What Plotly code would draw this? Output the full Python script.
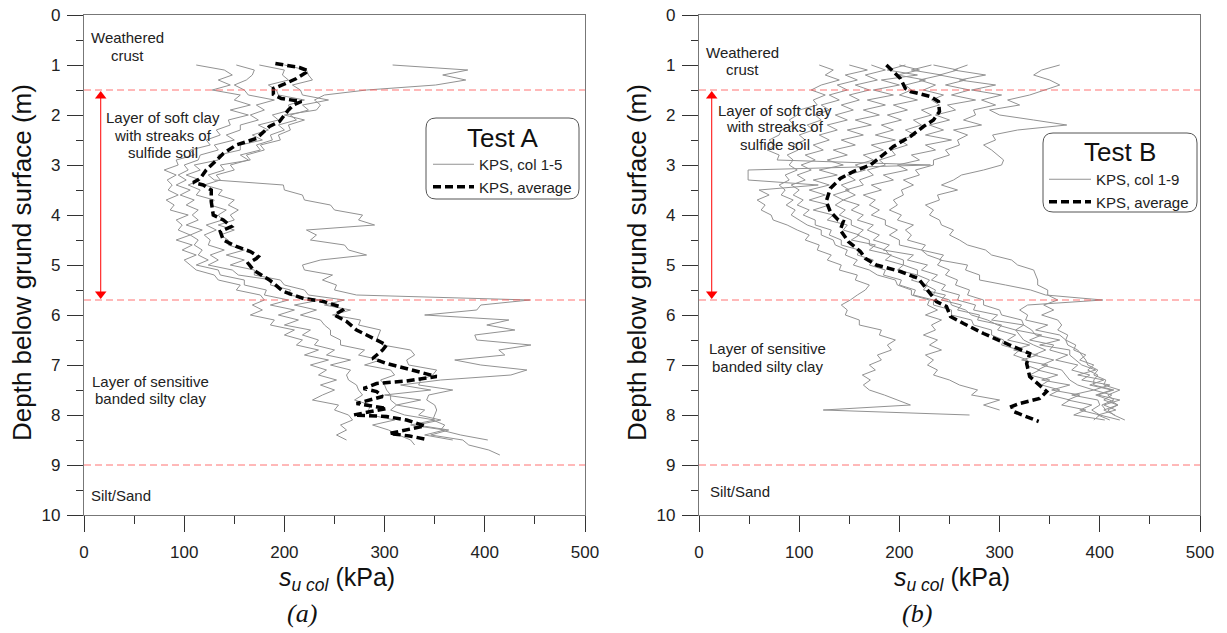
import plotly.graph_objects as go

W, H = 1227, 633

def fx(p):
    return p / W

def fy(p):
    return 1 - p / H

# ---------------- data ----------------
DEPTH = [1.0, 1.1, 1.2, 1.3, 1.4, 1.5, 1.6, 1.7, 1.8, 1.9,
         2.0, 2.1, 2.2, 2.3, 2.4, 2.5, 2.6, 2.7, 2.8, 2.9,
         3.0, 3.1, 3.2, 3.3, 3.4, 3.5, 3.6, 3.7, 3.8, 3.9,
         4.0, 4.1, 4.2, 4.3, 4.4, 4.5, 4.6, 4.7, 4.8, 4.9,
         5.0, 5.1, 5.2, 5.3, 5.4, 5.5, 5.6, 5.7, 5.8, 5.9,
         6.0, 6.1, 6.2, 6.3, 6.4, 6.5, 6.6, 6.7, 6.8, 6.9,
         7.0, 7.1, 7.2, 7.3, 7.4, 7.5, 7.6, 7.7, 7.8, 7.9,
         8.0, 8.1, 8.2, 8.3, 8.4, 8.5, 8.6, 8.7, 8.8]

# Test A - columns 1-5 (su col, kPa), one value per DEPTH entry
A1 = [112, 140, 148, 134, 146, 128, 156, 150, 166, 146,
      164, 144, 146, 132, 136, 122, 126, 106, 110, 92,
      94, 80, 92, 83, 88, 84, 94, 82, 90, 86,
      104, 92, 98, 94, 106, 92, 108, 98, 112, 100,
      106, 112, 130, 134, 156, 152, 176, 180, 168, 178,
      166, 190, 186, 210, 200, 218, 212, 234, 220, 244,
      226, 242, 234, 252, 236, 250, 238, 228, 254, 250,
      264, 268, 256, 262, 252, 262]
A2 = [152, 170, 168, 162, 150, 160, 164, 190, 172, 180,
      166, 174, 156, 156, 142, 150, 130, 134, 116, 114,
      100, 104, 94, 102, 92, 106, 96, 110, 102, 114,
      108, 114, 102, 118, 106, 114, 110, 118, 114, 124,
      112, 134, 136, 160, 160, 182, 180, 204, 186, 210,
      194, 214, 200, 226, 218, 234, 230, 250, 242, 266,
      246, 266, 262, 264, 272, 274, 278, 270, 286, 284,
      286, 310, 288, 304, 314, 326, 330]
A3 = [175, 200, 198, 204, 184, 192, 194, 220, 204, 206,
      188, 194, 174, 184, 168, 178, 156, 156, 134, 134,
      110, 116, 102, 116, 104, 116, 112, 130, 126, 142,
      134, 138, 122, 132, 120, 126, 124, 140, 126, 134,
      124, 148, 154, 188, 186, 206, 204, 236, 210, 232,
      216, 236, 240, 246, 246, 256, 256, 280, 274, 296,
      280, 306, 310, 296, 300, 302, 306, 306, 312, 340,
      334, 356, 332, 364, 346, 378, 384, 404, 415]
A4 = [200, 222, 224, 228, 208, 216, 218, 244, 218, 224,
      206, 212, 194, 200, 186, 188, 172, 176, 156, 164,
      146, 150, 132, 136, 120, 138, 134, 150, 144, 154,
      146, 150, 134, 150, 136, 144, 144, 160, 142, 160,
      146, 170, 170, 196, 200, 220, 224, 260, 240, 266,
      248, 276, 274, 296, 294, 292, 298, 326, 330, 322,
      324, 352, 348, 336, 334, 368, 344, 342, 350, 352,
      350, 348, 360, 356, 376, 403]
A5 = [308, 383, 358, 381, 351, 282, 240, 230, 236, 232,
      200, 220, 204, 206, 194, 196, 176, 180, 162, 166,
      136, 140, 124, 130, 199, 200, 218, 220, 246, 250,
      278, 274, 290, 222, 232, 226, 260, 264, 282, 236,
      218, 220, 248, 238, 252, 250, 272, 445, 396, 392,
      340, 424, 402, 430, 390, 392, 446, 414, 420, 370,
      396, 442, 426, 356, 316, 346, 300, 336, 312, 306,
      320, 350, 326, 360, 340, 368]

AVG_A_D = [0.97, 1.05, 1.12, 1.27, 1.39, 1.47, 1.59, 1.67, 1.73, 1.80,
           1.90, 2.13, 2.23, 2.47, 2.60, 2.77, 2.93, 3.10, 3.27, 3.35,
           3.40, 3.50, 3.73, 4.00, 4.10, 4.23, 4.33, 4.50, 4.63, 4.73,
           4.83, 4.87, 4.97, 5.10, 5.30, 5.53, 5.67, 5.73, 5.83, 5.90,
           6.00, 6.13, 6.30, 6.47, 6.60, 6.70, 6.87, 6.97, 7.10, 7.23,
           7.32, 7.37, 7.47, 7.53, 7.63, 7.73, 7.77, 7.87, 7.97, 8.00,
           8.03, 8.10, 8.22, 8.30, 8.37, 8.42, 8.49]
AVG_A_SU = [191, 215, 224, 212, 199, 189, 189, 197, 217, 209,
            204, 195, 185, 172, 152, 139, 131, 122, 116, 109,
            119, 127, 127, 129, 139, 147, 136, 139, 152, 166,
            174, 172, 164, 169, 185, 199, 219, 239, 255, 258,
            250, 262, 272, 288, 302, 298, 288, 302, 328, 352,
            322, 292, 279, 292, 298, 279, 272, 302, 279, 269,
            302, 322, 340, 322, 305, 325, 342]

# Test B - columns 1-9 (su col, kPa), one value per DEPTH entry
B1 = [120, 134, 126, 140, 122, 112, 126, 114, 118, 100,
      98, 90, 95, 82, 80, 70, 76, 68, 80, 78,
      231, 49, 49, 49, 119, 60, 70, 58, 66, 62,
      72, 74, 88, 98, 110, 106, 120, 118, 132, 128,
      142, 140, 158, 156, 170, 166, 158, 151, 142, 148,
      146, 160, 160, 182, 180, 196, 188, 192, 178, 182,
      170, 176, 163, 171, 164, 170, 185, 199, 211, 124,
      270]
B2 = [150, 168, 146, 158, 138, 148, 130, 140, 122, 130,
      116, 122, 108, 114, 100, 106, 94, 99, 88, 94,
      90, 98, 86, 90, 80, 86, 82, 94, 87, 96,
      92, 100, 108, 122, 122, 134, 136, 148, 146, 158,
      154, 170, 178, 196, 198, 212, 212, 230, 228, 238,
      226, 242, 232, 236, 224, 238, 230, 242, 226, 234,
      228, 238, 234, 250, 260, 278, 272, 300, 284, 300]
B3 = [172, 186, 166, 178, 156, 170, 150, 160, 142, 154,
      136, 148, 128, 138, 120, 130, 114, 124, 106, 116,
      102, 112, 98, 106, 92, 100, 94, 104, 98, 110,
      104, 116, 116, 132, 130, 142, 142, 160, 158, 174,
      170, 186, 184, 202, 200, 216, 214, 234, 234, 252,
      252, 272, 274, 292, 292, 304, 302, 320, 314, 328,
      326, 340, 330, 350, 342, 360, 350, 370, 362, 386,
      374, 405]
B4 = [206, 188, 218, 182, 200, 174, 194, 168, 186, 164,
      180, 156, 172, 148, 164, 142, 156, 134, 148, 128,
      144, 120, 138, 114, 130, 110, 126, 110, 130, 114,
      134, 128, 148, 144, 160, 152, 176, 170, 192, 186,
      204, 198, 218, 212, 228, 224, 246, 242, 262, 258,
      280, 278, 302, 298, 316, 308, 330, 314, 338, 322,
      348, 338, 358, 342, 370, 352, 380, 368, 392, 380,
      400, 394]
B5 = [200, 220, 198, 226, 206, 212, 200, 218, 194, 208,
      188, 202, 182, 194, 176, 196, 172, 184, 164, 174,
      156, 166, 148, 156, 142, 150, 134, 144, 136, 146,
      140, 152, 152, 164, 158, 170, 170, 186, 190, 204,
      204, 218, 218, 230, 226, 236, 234, 250, 252, 266,
      272, 288, 298, 316, 320, 324, 334, 346, 334, 354,
      342, 362, 366, 370, 378, 394, 372, 398, 400, 392,
      400, 420]
B6 = [232, 212, 242, 220, 236, 224, 244, 232, 240, 222,
      232, 214, 222, 206, 216, 200, 208, 192, 196, 180,
      186, 168, 174, 160, 164, 146, 156, 144, 160, 152,
      164, 158, 174, 168, 180, 174, 190, 184, 214, 208,
      228, 222, 238, 232, 246, 242, 260, 258, 276, 274,
      298, 292, 324, 316, 342, 330, 354, 350, 368, 356,
      378, 372, 390, 382, 410, 394, 412, 404, 418, 408,
      414, 425]
B7 = [234, 258, 240, 266, 246, 270, 252, 276, 248, 256,
      236, 250, 230, 244, 226, 252, 226, 236, 212, 220,
      198, 208, 184, 194, 172, 182, 164, 176, 170, 180,
      172, 186, 186, 198, 190, 200, 200, 222, 228, 242,
      238, 250, 246, 258, 256, 270, 268, 284, 284, 300,
      302, 322, 324, 332, 336, 360, 340, 370, 370, 376,
      382, 396, 378, 404, 390, 412, 396, 410, 418, 404,
      415]
B8 = [268, 254, 286, 260, 296, 272, 302, 282, 296, 274,
      276, 264, 282, 254, 268, 258, 260, 246, 250, 234,
      234, 216, 220, 204, 214, 202, 204, 194, 198, 190,
      202, 198, 214, 206, 212, 208, 226, 222, 244, 240,
      268, 266, 280, 280, 306, 331, 346, 403, 328, 320,
      328, 326, 348, 336, 360, 366, 368, 378, 382, 386,
      388, 398, 394, 406, 404, 420, 408, 414, 402, 406]
B9 = [360, 342, 334, 350, 360, 346, 330, 308, 320, 290,
      300, 334, 367, 318, 293, 296, 284, 292, 298, 304,
      302, 284, 262, 254, 242, 258, 238, 240, 226, 234,
      230, 240, 242, 254, 250, 260, 268, 286, 292, 312,
      318, 334, 336, 338, 338, 348, 348, 358, 344, 354,
      342, 358, 362, 358, 368, 366, 376, 374, 386, 380,
      394, 388, 398, 394, 394, 414, 398, 420, 404, 416,
      398, 410]

AVG_B_D = [1.00, 1.27, 1.47, 1.53, 1.63, 1.73, 1.93, 2.10, 2.23, 2.43,
           2.63, 2.80, 3.00, 3.13, 3.27, 3.47, 3.73, 3.93, 4.10, 4.13,
           4.30, 4.53, 4.73, 4.87, 5.00, 5.13, 5.27, 5.40, 5.57, 5.73,
           5.83, 6.03, 6.17, 6.37, 6.60, 6.77, 6.97, 7.23, 7.53, 7.67,
           7.77, 7.83, 7.93, 8.03, 8.13]
AVG_B_SU = [187, 201, 206, 211, 231, 239, 240, 234, 224, 211,
            194, 184, 171, 154, 141, 131, 127, 131, 139, 144,
            141, 149, 161, 166, 177, 201, 219, 224, 231, 237,
            247, 251, 264, 284, 310, 330, 327, 330, 347, 340,
            320, 312, 314, 327, 339]

LAYER_BOUNDS = [1.5, 5.7, 9.0]
SOFT_CLAY_SPAN = [1.5, 5.7]
X_TICKS = [0, 100, 200, 300, 400, 500]
Y_TICKS = [0, 1, 2, 3, 4, 5, 6, 7, 8, 9, 10]

# ---------------- style ----------------
SANS = "Liberation Sans, Arial, sans-serif"
SERIF = "Liberation Serif, Times New Roman, serif"
GRAY = "#929292"
TXT = "#222222"

fig = go.Figure()

for i, col in enumerate([A1, A2, A3, A4, A5]):
    fig.add_trace(go.Scatter(
        x=col, y=DEPTH[:len(col)], mode="lines",
        line=dict(color=GRAY, width=1), name="KPS, col 1-5",
        legendgroup="a1", showlegend=(i == 0), legend="legend",
        xaxis="x", yaxis="y"))
fig.add_trace(go.Scatter(
    x=AVG_A_SU, y=AVG_A_D, mode="lines",
    line=dict(color="black", width=3.5, dash="8px,4px"),
    name="KPS, average", legend="legend", xaxis="x", yaxis="y"))

for i, col in enumerate([B1, B2, B3, B4, B5, B6, B7, B8, B9]):
    fig.add_trace(go.Scatter(
        x=col, y=DEPTH[:len(col)], mode="lines",
        line=dict(color=GRAY, width=1), name="KPS, col 1-9",
        legendgroup="b1", showlegend=(i == 0), legend="legend2",
        xaxis="x2", yaxis="y2"))
fig.add_trace(go.Scatter(
    x=AVG_B_SU, y=AVG_B_D, mode="lines",
    line=dict(color="black", width=3.5, dash="8px,4px"),
    name="KPS, average", legend="legend2", xaxis="x2", yaxis="y2"))

# red double arrows marking the soft clay layer
for xa, ya, xv in [("x", "y", 16.7), ("x2", "y2", 12.7)]:
    top, bot = SOFT_CLAY_SPAN
    fig.add_trace(go.Scatter(
        x=[xv, xv], y=[top + 0.12, bot - 0.12], mode="lines+markers",
        line=dict(color="#ff0000", width=1),
        marker=dict(symbol=["triangle-up", "triangle-down"], size=10,
                    color="#ff0000", line=dict(width=0)),
        showlegend=False, xaxis=xa, yaxis=ya, hoverinfo="skip"))

YDOM = [fy(515), fy(15)]
PANELS = [("x", "y"), ("x2", "y2")]

def xaxis_style(dom, anchor):
    return dict(domain=dom, anchor=anchor, range=[0, 500], automargin=False,
                tickvals=X_TICKS, ticktext=[str(v) for v in X_TICKS],
                ticks="outside", ticklen=16, tickwidth=1, tickcolor="#333",
                minor=dict(dtick=50, ticks="outside", ticklen=8, tickwidth=1, tickcolor="#333"),
                showline=True, linecolor="#777", linewidth=1.3, mirror=True,
                showgrid=False, zeroline=False, ticklabelstandoff=5,
                tickfont=dict(family=SANS, size=17, color=TXT))

def yaxis_style(anchor):
    return dict(domain=YDOM, anchor=anchor, range=[10, 0], automargin=False,
                tickvals=Y_TICKS, ticktext=[str(v) for v in Y_TICKS],
                ticks="outside", ticklen=16, tickwidth=1, tickcolor="#333",
                minor=dict(dtick=0.5, ticks="outside", ticklen=7, tickwidth=1, tickcolor="#333"),
                showline=True, linecolor="#777", linewidth=1.3, mirror=True,
                showgrid=False, zeroline=False, ticklabelstandoff=3,
                tickfont=dict(family=SANS, size=17, color=TXT))

def rounded_rect(x0, y0, x1, y1, r):
    pts = [f"M {fx(x0 + r)},{fy(y0)}",
           f"L {fx(x1 - r)},{fy(y0)}",
           f"Q {fx(x1)},{fy(y0)} {fx(x1)},{fy(y0 + r)}",
           f"L {fx(x1)},{fy(y1 - r)}",
           f"Q {fx(x1)},{fy(y1)} {fx(x1 - r)},{fy(y1)}",
           f"L {fx(x0 + r)},{fy(y1)}",
           f"Q {fx(x0)},{fy(y1)} {fx(x0)},{fy(y1 - r)}",
           f"L {fx(x0)},{fy(y0 + r)}",
           f"Q {fx(x0)},{fy(y0)} {fx(x0 + r)},{fy(y0)}",
           "Z"]
    return " ".join(pts)

shapes = []
for xa, ya in PANELS:
    for d in LAYER_BOUNDS:
        shapes.append(dict(type="line", xref=f"{xa} domain", yref=ya,
                           x0=0, x1=1, y0=d, y1=d,
                           line=dict(color="rgba(255,90,90,0.85)", width=1, dash="7px,4px")))
shapes.append(dict(type="path", xref="paper", yref="paper",
                   path=rounded_rect(426, 118, 579, 199, 10),
                   line=dict(color="#555", width=1)))
shapes.append(dict(type="path", xref="paper", yref="paper",
                   path=rounded_rect(1043, 133, 1197, 212, 10),
                   line=dict(color="#555", width=1)))

ann = []

def txt(xa, ya, x, y, s, size=15, xanchor="center"):
    ann.append(dict(xref=xa, yref=ya, x=x, y=y, text=s, showarrow=False,
                    xanchor=xanchor, yanchor="middle",
                    font=dict(family=SANS, size=size, color=TXT)))

# Panel A texts
txt("x", "y", 43, 0.44, "Weathered")
txt("x", "y", 43, 0.80, "crust")
txt("x", "y", 78.5, 2.05, "Layer of soft clay")
txt("x", "y", 78.5, 2.40, "with streaks of")
txt("x", "y", 78.5, 2.75, "sulfide soil")
txt("x", "y", 66, 7.32, "Layer of sensitive")
txt("x", "y", 66, 7.67, "banded silty clay")
txt("x", "y", 5.3, 9.6, "Silt/Sand", xanchor="left")
# Panel B texts
txt("x2", "y2", 43, 0.75, "Weathered")
txt("x2", "y2", 43, 1.08, "crust")
txt("x2", "y2", 76, 1.90, "Layer of soft clay")
txt("x2", "y2", 76, 2.23, "with streaks of")
txt("x2", "y2", 76, 2.59, "sulfide soil")
txt("x2", "y2", 68.4, 6.67, "Layer of sensitive")
txt("x2", "y2", 68.4, 7.02, "banded silty clay")
txt("x2", "y2", 9.3, 9.52, "Silt/Sand", xanchor="left")

# legend titles
for (px_, py_, s) in [(502, 138, "Test A"), (1120, 152, "Test B")]:
    ann.append(dict(xref="paper", yref="paper", x=fx(px_), y=fy(py_), text=s,
                    showarrow=False, xanchor="center", yanchor="middle",
                    font=dict(family=SANS, size=26, color="#111")))

# axis titles & panel labels
XT = "<i>s</i><sub><i>u col</i></sub> (kPa)"
for (cx, lab, ycx) in [(337, "(a)", 22), (952, "(b)", 637)]:
    ann.append(dict(xref="paper", yref="paper", x=fx(cx), y=fy(579), text=XT,
                    showarrow=False, xanchor="center", yanchor="middle",
                    font=dict(family=SANS, size=25, color="#111")))
    ann.append(dict(xref="paper", yref="paper", x=fx(cx - 35), y=fy(613), text=f"<i>{lab}</i>",
                    showarrow=False, xanchor="center", yanchor="middle",
                    font=dict(family=SERIF, size=26, color="#111")))
    ann.append(dict(xref="paper", yref="paper", x=fx(ycx), y=fy(263),
                    text="Depth below grund surface (m)", textangle=-90,
                    showarrow=False, xanchor="center", yanchor="middle",
                    font=dict(family=SANS, size=26, color="#111")))

leg_common = dict(xanchor="left", yanchor="top", bgcolor="rgba(0,0,0,0)",
                  borderwidth=0, font=dict(family=SANS, size=15, color=TXT),
                  tracegroupgap=0)

fig.update_layout(
    template="none",
    width=W, height=H, autosize=False,
    margin=dict(l=0, r=0, t=0, b=0, pad=0),
    paper_bgcolor="white", plot_bgcolor="white",
    xaxis=xaxis_style([fx(84), fx(585)], "y"),
    yaxis=yaxis_style("x"),
    xaxis2=xaxis_style([fx(699), fx(1200)], "y2"),
    yaxis2=yaxis_style("x2"),
    shapes=shapes, annotations=ann,
    legend=dict(x=fx(428), y=fy(148), itemwidth=41, **leg_common),
    legend2=dict(x=fx(1044), y=fy(163), itemwidth=42, **leg_common),
    hovermode=False,
)

fig.write_html("out.html")
